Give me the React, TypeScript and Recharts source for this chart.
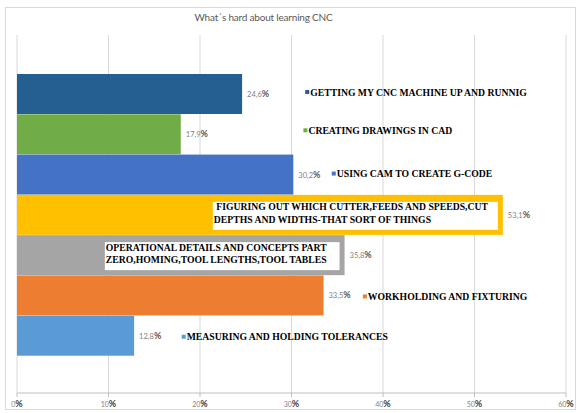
import React from "react";
import { BarChart, Bar, XAxis, YAxis, CartesianGrid } from "recharts";

const categories = [
  "GETTING MY CNC MACHINE UP AND RUNNIG",
  "CREATING DRAWINGS IN CAD",
  "USING CAM TO CREATE G-CODE",
  "FIGURING OUT WHICH CUTTER,FEEDS AND SPEEDS,CUT DEPTHS AND WIDTHS-THAT SORT OF THINGS",
  "OPERATIONAL DETAILS AND CONCEPTS PART ZERO,HOMING,TOOL LENGTHS,TOOL TABLES",
  "WORKHOLDING AND FIXTURING",
  "MEASURING AND HOLDING TOLERANCES",
];
const values = [24.6, 17.9, 30.2, 53.1, 35.8, 33.5, 12.8];
const ticks = [0, 10, 20, 30, 40, 50, 60];
const boxLines: (string[] | null)[] = [
  null,
  null,
  null,
  [" FIGURING OUT WHICH CUTTER,FEEDS AND SPEEDS,CUT", "DEPTHS AND WIDTHS-THAT SORT OF THINGS"],
  ["OPERATIONAL DETAILS AND CONCEPTS PART", "ZERO,HOMING,TOOL LENGTHS,TOOL TABLES"],
  null,
  null,
];

// styling / layout
const colors = ["#255E91", "#70AD47", "#4472C4", "#FFC000", "#A5A5A5", "#ED7D31", "#5B9BD5"];
const legendAt = [31.5, 31.3, 34.4, 0, 0, 37.8, 18.0]; // in axis units
const legendDy = [-2, -4, -1, 0, 0, 1, 1];
const boxFrom = [0, 0, 0, 21.4, 9.6, 0, 0];

const data = categories.map((name, i) => ({ name, value: values[i] }));

const fmt = (v: number) => v.toFixed(1).replace(".", ",");

function BarShape(props: any) {
  const { x, y, width, height, index } = props;
  const fill = colors[index];
  const s = width / values[index];
  const cy = y + height / 2;
  const vx = x + width + 5;
  const lines = boxLines[index];
  return (
    <g>
      <rect x={x} y={y} width={width} height={height} fill={fill} />
      {lines && (
        <g>
          <rect
            x={x + boxFrom[index] * s}
            y={y + 7}
            width={x + width - 5 - (x + boxFrom[index] * s)}
            height={height - 12}
            fill="#FFFFFF"
          />
          {lines.map((l, k) => (
            <text
              key={k}
              x={x + boxFrom[index] * s + 1}
              y={y + 15.5 + k * 12.5}
              fontFamily="'Liberation Serif', serif"
              fontWeight="bold"
              fontSize={9.7}
              fill="#000"
              style={{ whiteSpace: "pre" }}
            >
              {l}
            </text>
          ))}
        </g>
      )}
      <text x={vx} y={cy + 3} fontFamily="Lato, sans-serif">
        <tspan fontSize={7.5} fill="#7F7F7F">{fmt(values[index])}</tspan>
        <tspan fontSize={9} fontWeight="bold" fill="#595959">%</tspan>
      </text>
      {!lines && (
        <g>
          <rect
            x={x + legendAt[index] * s}
            y={cy + legendDy[index] - 2}
            width={4}
            height={4}
            fill={fill}
          />
          <text
            x={x + legendAt[index] * s + 5}
            y={cy + legendDy[index] + 3.5}
            fontFamily="'Liberation Serif', serif"
            fontWeight="bold"
            fontSize={9.7}
            fill="#000"
          >
            {categories[index]}
          </text>
        </g>
      )}
    </g>
  );
}

function Tick(props: any) {
  const { x, y, payload } = props;
  return (
    <text x={x} y={y + 7.5} textAnchor="middle" fontFamily="Lato, sans-serif">
      <tspan fontSize={7} fill="#7F7F7F">{payload.value}</tspan>
      <tspan fontSize={9} fontWeight="bold" fill="#404040">%</tspan>
    </text>
  );
}

export default function App() {
  return (
    <div style={{ position: "absolute", left: 0, top: 0, width: 579, height: 413, background: "#fff" }}>
      <div
        style={{
          position: "absolute",
          left: 5,
          top: 7,
          width: 571,
          height: 403,
          border: "1px solid #D9D9D9",
          boxSizing: "border-box",
        }}
      />
      <div
        style={{
          position: "absolute",
          left: 0,
          top: 10,
          width: 527,
          textAlign: "center",
          fontFamily: "Lato, sans-serif",
          fontSize: 10,
          letterSpacing: -0.2,
          color: "#595959",
          lineHeight: "14px",
        }}
      >
        What´s hard about learning CNC
      </div>
      <div style={{ position: "absolute", left: 0, top: 0 }}>
        <BarChart
          width={579}
          height={413}
          layout="vertical"
          data={data}
          margin={{ top: 35, right: 13, left: 17, bottom: 0 }}
          barCategoryGap={0}
        >
          <CartesianGrid horizontal={false} stroke="#D9D9D9" />
          <XAxis
            type="number"
            domain={[0, 60]}
            ticks={ticks}
            interval={0}
            height={20}
            stroke="#BFBFBF"
            tickSize={4}
            tick={<Tick />}
          />
          <YAxis type="category" dataKey="name" hide width={0} padding={{ top: 39, bottom: 37 }} />
          <Bar dataKey="value" isAnimationActive={false} shape={BarShape} />
        </BarChart>
      </div>
    </div>
  );
}
